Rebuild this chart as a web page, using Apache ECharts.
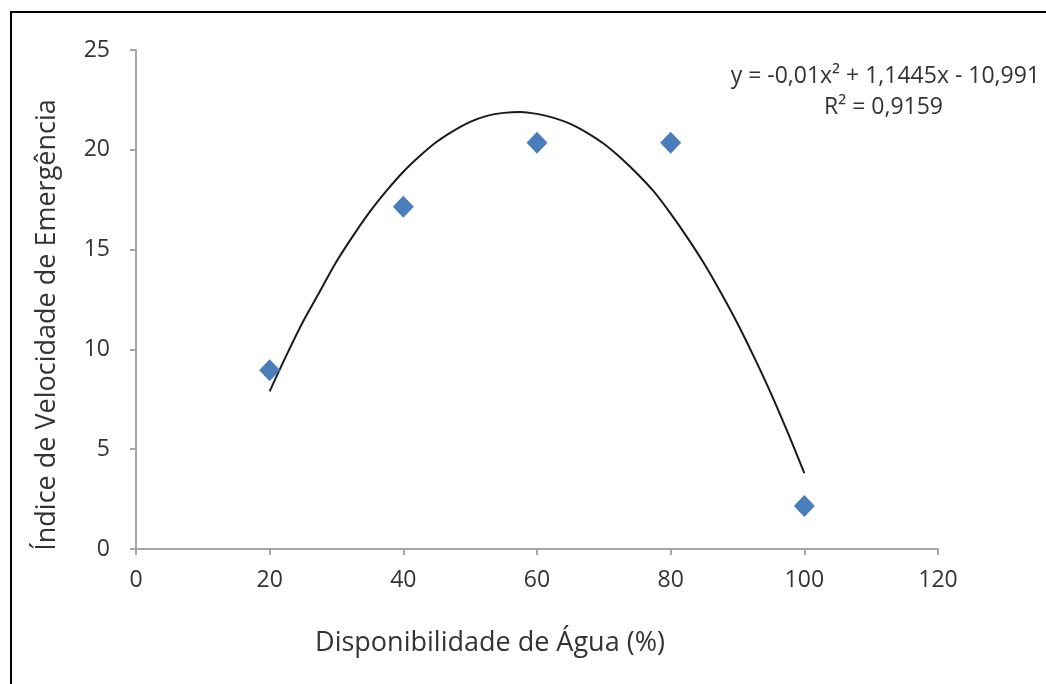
<!DOCTYPE html>
<html><head><meta charset="utf-8">
<script src="https://cdn.jsdelivr.net/npm/echarts@6/dist/echarts.min.js"></script>
<style>html,body{margin:0;padding:0;background:#fff}#c{width:1046px;height:684px}</style>
</head><body><div id="c"></div>
<script>
var xTicks = [0, 20, 40, 60, 80, 100, 120];
var waterX = [20, 40, 60, 80, 100];
var ivePoints = [8.95, 17.15, 20.35, 20.35, 2.15];
var curveX = [20, 22.5, 25, 27.5, 30, 32.5, 35, 37.5, 40, 42.5, 45, 47.5, 50, 52.5, 55, 57.5, 60, 62.5, 65, 67.5, 70, 72.5, 75, 77.5, 80, 82.5, 85, 87.5, 90, 92.5, 95, 97.5, 100];
var curveY = [7.9, 9.7, 11.4, 12.9, 14.4, 15.7, 16.9, 17.95, 18.9, 19.7, 20.4, 20.95, 21.4, 21.7, 21.85, 21.9, 21.8, 21.6, 21.3, 20.85, 20.3, 19.6, 18.8, 17.9, 16.8, 15.6, 14.3, 12.85, 11.3, 9.6, 7.8, 5.85, 3.8];
var equationText = 'y = -0,01x² + 1,1445x - 10,991';
var r2Text = 'R² = 0,9159';
var xTitle = 'Disponibilidade de Água (%)';
var yTitle = 'Índice de Velocidade de Emergência';

var FONT = 'Open Sans';
var TXT = '#333';
var chart = echarts.init(document.getElementById('c'));
chart.setOption({
  animation: false,
  backgroundColor: '#fff',
  grid: {left: 136, right: 108, top: 50, bottom: 135},
  xAxis: {
    type: 'value', min: 0, max: 120, interval: 20,
    axisLine: {show: true, lineStyle: {color: '#a6a6a6', width: 2}},
    axisTick: {show: true, length: 6, lineStyle: {color: '#a6a6a6', width: 2}},
    axisLabel: {fontFamily: FONT, fontSize: 23, color: TXT, margin: 20},
    splitLine: {show: false}
  },
  yAxis: {
    type: 'value', min: 0, max: 25, interval: 5,
    axisLine: {show: true, lineStyle: {color: '#a6a6a6', width: 2}},
    axisTick: {show: true, length: 6, lineStyle: {color: '#a6a6a6', width: 2}},
    axisLabel: {fontFamily: FONT, fontSize: 23, color: TXT, margin: 26},
    splitLine: {show: false}
  },
  series: [
    {
      type: 'line', data: curveX.map(function (x, i) { return [x, curveY[i]]; }),
      smooth: 0.3, showSymbol: false, symbol: 'none',
      lineStyle: {color: '#1a1a1a', width: 2}, z: 2
    },
    {
      type: 'scatter', data: waterX.map(function (x, i) { return [x, ivePoints[i]]; }),
      symbol: 'diamond', symbolSize: [21, 22],
      itemStyle: {color: '#4a7ebb', opacity: 1}, z: 3
    }
  ],
  graphic: [
    {type: 'polyline', shape: {points: [[11, 684], [11, 12], [1046, 12]]}, style: {stroke: '#000', lineWidth: 2, fill: null}},
    {type: 'text', x: 1040, y: 76, style: {text: equationText, font: '23px "Open Sans"', fill: TXT, align: 'right', verticalAlign: 'middle'}},
    {type: 'text', x: 943, y: 107, style: {text: r2Text, font: '23px "Open Sans"', fill: TXT, align: 'right', verticalAlign: 'middle'}},
    {type: 'text', x: 490, y: 643, style: {text: xTitle, font: '27px "Open Sans"', fill: TXT, align: 'center', verticalAlign: 'middle'}},
    {type: 'text', x: 47, y: 325, rotation: Math.PI / 2, style: {text: yTitle, font: '27px "Open Sans"', fill: TXT, align: 'center', verticalAlign: 'middle'}}
  ]
});
</script></body></html>
